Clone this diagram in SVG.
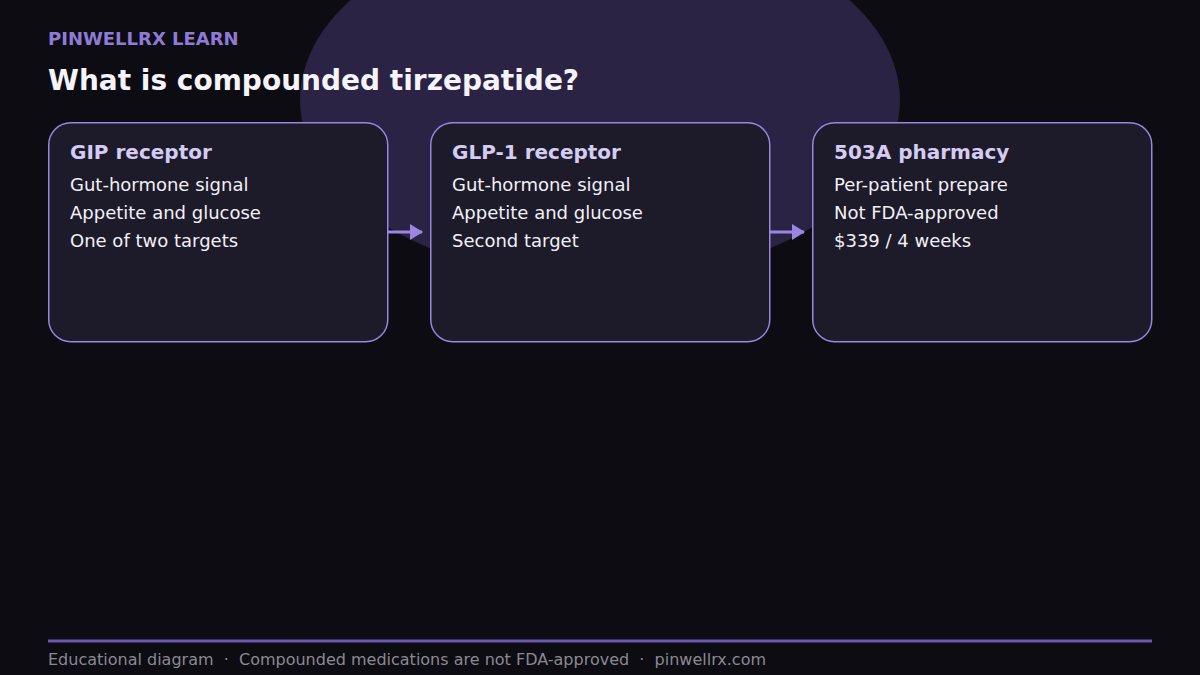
<svg xmlns="http://www.w3.org/2000/svg" width="1200" height="675" viewBox="0 0 1200 675">
<defs>
<style>
.card{fill:#1d1b29;stroke:#9a86e0;stroke-width:1.5}
.ct{font-family:"DejaVu Sans",sans-serif;font-weight:bold;font-size:20px;fill:#d4ccf2}
.cb{font-family:"DejaVu Sans",sans-serif;font-size:18px;fill:#f2f0f8}
.conn{stroke:#9a86e0;stroke-width:3;fill:none}
</style>
<marker id="ah" markerWidth="14" markerHeight="18" refX="12" refY="8" orient="auto" markerUnits="userSpaceOnUse">
<path d="M0,0 L13,8 L0,16 Z" fill="#9a86e0"/>
</marker>
</defs>
<rect width="1200" height="675" fill="#0d0c12"/>
<ellipse cx="600" cy="100" rx="300" ry="180" fill="#2a2344"/>
<text x="48" y="45" font-family="DejaVu Sans,sans-serif" font-weight="bold" font-size="18" fill="#8f7bd6">PINWELLRX LEARN</text>
<text x="48" y="90" font-family="DejaVu Sans,sans-serif" font-weight="bold" font-size="28" fill="#f5f4fa">What is compounded tirzepatide?</text>
<g id="connectors">
<line class="conn" x1="388" y1="232" x2="422" y2="232" marker-end="url(#ah)"/>
<line class="conn" x1="770" y1="232" x2="804" y2="232" marker-end="url(#ah)"/>
</g>
<g id="node-gip">
<rect class="card" x="48.75" y="122.75" width="339" height="219" rx="22"/>
<text class="ct" x="70" y="159">GIP receptor</text>
<text class="cb" x="70" y="191">Gut-hormone signal</text>
<text class="cb" x="70" y="219">Appetite and glucose</text>
<text class="cb" x="70" y="247">One of two targets</text>
</g>
<g id="node-glp1">
<rect class="card" x="430.75" y="122.75" width="339" height="219" rx="22"/>
<text class="ct" x="452" y="159">GLP-1 receptor</text>
<text class="cb" x="452" y="191">Gut-hormone signal</text>
<text class="cb" x="452" y="219">Appetite and glucose</text>
<text class="cb" x="452" y="247">Second target</text>
</g>
<g id="node-503a">
<rect class="card" x="812.75" y="122.75" width="339" height="219" rx="22"/>
<text class="ct" x="834" y="159">503A pharmacy</text>
<text class="cb" x="834" y="191">Per-patient prepare</text>
<text class="cb" x="834" y="219">Not FDA-approved</text>
<text class="cb" x="834" y="247">$339 / 4 weeks</text>
</g>
<line x1="48" y1="641" x2="1152" y2="641" stroke="#6a58b0" stroke-width="3"/>
<text x="48" y="665" xml:space="preserve" font-family="DejaVu Sans,sans-serif" font-size="16" fill="#8a8993">Educational diagram  ·  Compounded medications are not FDA-approved  ·  pinwellrx.com</text>
</svg>
